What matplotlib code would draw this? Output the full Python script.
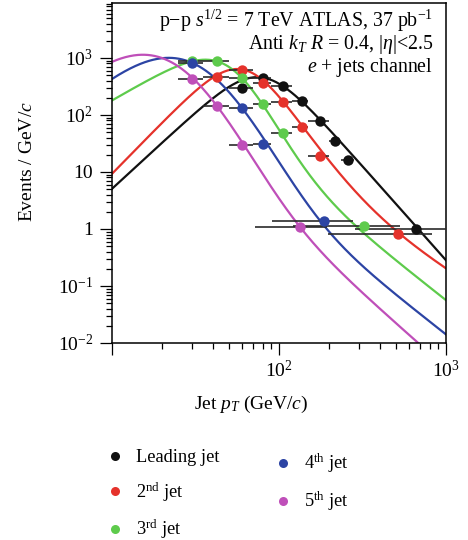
import numpy as np
import matplotlib
matplotlib.use("Agg")
import matplotlib.pyplot as plt
from matplotlib.lines import Line2D
from matplotlib.ticker import LogLocator, FuncFormatter, NullFormatter

plt.rcParams['font.family'] = ['Liberation Serif', 'DejaVu Serif']
plt.rcParams['mathtext.fontset'] = 'custom'
plt.rcParams['mathtext.rm'] = 'Liberation Serif'
plt.rcParams['mathtext.it'] = 'Liberation Serif:italic'
plt.rcParams['mathtext.bf'] = 'Liberation Serif:bold'

# ---------------- data ----------------
jet_labels = ["Leading jet", r"2$^{\rm nd}$ jet", r"3$^{\rm rd}$ jet",
              r"4$^{\rm th}$ jet", r"5$^{\rm th}$ jet"]
jet_colors = ["#111111", "#e5322b", "#5ecb4c", "#2c44a4", "#bf4fb9"]

# leading jet
lead_pt = [60, 80, 106, 137, 176, 216, 259, 660]
lead_y = [298, 445, 323, 176, 78.5, 35, 16.2, 1.0]
lead_lo = [50, 70, 90, 120, 150, 200, 235, 285]
lead_hi = [70, 90, 120, 150, 200, 235, 280, 1000]

# 2nd jet
second_pt = [42.5, 60, 80, 106, 137, 176, 516]
second_y = [464, 616, 364, 169, 61.5, 19.1, 0.82]
second_lo = [35, 50, 70, 90, 120, 150, 196]
second_hi = [50, 70, 90, 120, 150, 200, 830]

# 3rd jet
third_pt = [30, 42.5, 60, 80, 106, 323]
third_y = [886, 886, 445, 156, 48, 1.13]
third_lo = [25, 35, 50, 70, 90, 121]
third_hi = [35, 50, 70, 90, 120, 530]

# 4th jet
fourth_pt = [30, 60, 80, 186]
fourth_y = [817, 133, 31, 1.38]
fourth_lo = [25, 50, 70, 91]
fourth_hi = [35, 70, 90, 277]

# 5th jet
fifth_pt = [30, 42.5, 60, 134]
fifth_y = [428, 144, 29.8, 1.08]
fifth_lo = [25, 35, 50, 72]
fifth_hi = [35, 50, 70, 194]

# fit parameters of the spectrum model:
# (slope_low, slope_mid, break1, sharp1, slope_high, break2, sharp2, pt_ref, value_ref)
lead_fit = (2.7, -3.3, 77.8, 4.0, -3.3, 1000.0, 2.0, 74.0, 460.0)
second_fit = (3.0, -4.7, 61.8, 4.0, -1.8, 280.0, 2.0, 56.0, 640.0)
third_fit = (1.7, -6.5, 52.3, 3.5, -2.3, 138.9, 3.0, 60.0, 445.0)
fourth_fit = (2.6, -6.0, 33.1, 2.0, -2.3, 166.0, 3.0, 60.0, 133.0)
fifth_fit = (2.6, -6.0, 23.2, 2.0, -2.6, 116.5, 3.0, 42.5, 144.0)

series = [
    (lead_pt, lead_y, lead_lo, lead_hi, lead_fit),
    (second_pt, second_y, second_lo, second_hi, second_fit),
    (third_pt, third_y, third_lo, third_hi, third_fit),
    (fourth_pt, fourth_y, fourth_lo, fourth_hi, fourth_fit),
    (fifth_pt, fifth_y, fifth_lo, fifth_hi, fifth_fit),
]


def shape(pt, a1, am, x1, k1, ah, x2, k2):
    """Doubly broken power law."""
    return (pt ** a1
            * (1.0 + (pt / x1) ** k1) ** ((am - a1) / k1)
            * (1.0 + (pt / x2) ** k2) ** ((ah - am) / k2))


def spectrum(pt, params):
    a1, am, x1, k1, ah, x2, k2, xr, yr = params
    return yr * shape(pt, a1, am, x1, k1, ah, x2, k2) / shape(xr, a1, am, x1, k1, ah, x2, k2)


# ---------------- figure ----------------
fig = plt.figure(figsize=(4.68, 5.40), dpi=100)
ax = fig.add_axes([112 / 468, 1 - 343 / 540, 334 / 468, 340 / 540])
ax.set_xscale('log')
ax.set_yscale('log')
ax.set_xlim(10, 1000)
ax.set_ylim(1e-2, 9.2e3)

pt_grid = np.logspace(1, 3, 400)
for (pt, yv, lo, hi, fit), col in zip(series, jet_colors):
    ax.plot(pt_grid, spectrum(pt_grid, fit), color=col, lw=1.6, zorder=2)

for (pt, yv, lo, hi, fit), col in zip(series, jet_colors):
    pt = np.asarray(pt, float)
    xerr = [pt - np.asarray(lo, float), np.asarray(hi, float) - pt]
    ax.errorbar(pt, yv, xerr=xerr, fmt='none', ecolor='#2a2a2a',
                elinewidth=1.2, capsize=0, zorder=3)
    ax.plot(pt, yv, 'o', color=col, ms=7.5, mec='none', zorder=4)

# axes styling
for side in ['left', 'bottom', 'right', 'top']:
    ax.spines[side].set_linewidth(1.1)
ax.tick_params(which='both', direction='out', top=False, right=False, width=0.9)
ax.tick_params(which='major', length=8.5, labelsize=14, pad=4)
ax.tick_params(which='minor', length=4.5)

ax.xaxis.set_major_locator(LogLocator(base=10, numticks=10))
ax.xaxis.set_minor_locator(LogLocator(base=10, subs=np.arange(2, 10), numticks=20))
ax.xaxis.set_minor_formatter(NullFormatter())


def xfmt(v, pos):
    e = int(round(np.log10(v)))
    if e < 2:
        return ''
    return r'$10^{%d}$' % e


def yfmt(v, pos):
    e = int(round(np.log10(v)))
    if e == 0:
        return '1'
    if e == 1:
        return '10'
    return r'$10^{%d}$' % e


ax.xaxis.set_major_formatter(FuncFormatter(xfmt))
ax.yaxis.set_major_locator(LogLocator(base=10, numticks=12))
ax.yaxis.set_minor_locator(LogLocator(base=10, subs=np.arange(2, 10), numticks=30))
ax.yaxis.set_major_formatter(FuncFormatter(yfmt))
ax.yaxis.set_minor_formatter(NullFormatter())
ax.tick_params(axis='y', pad=5)

# axis titles
fig.text(251 / 468, 1 - 404 / 540, r'Jet $p_T$ (GeV/$c$)', ha='center', va='center', fontsize=14)
fig.text(28 / 468, 1 - 162 / 540, r'Events / GeV/$c$', ha='center', va='center',
         rotation=90, fontsize=14)

# annotations
ax.text(0.961, 0.948, r'p$-$p $s^{1/2}$ = 7 TeV ATLAS, 37 pb$^{-1}$',
        transform=ax.transAxes, ha='right', va='center', fontsize=14.3)
ax.text(0.961, 0.877, r'Anti $k_T$ $R$ = 0.4, |$\eta$|<2.5',
        transform=ax.transAxes, ha='right', va='center', fontsize=14.3)
ax.text(0.961, 0.809, r'$e$ + jets channel',
        transform=ax.transAxes, ha='right', va='center', fontsize=14.3)

# legend: two columns, the second sitting slightly lower
handles = [Line2D([], [], ls='none', marker='o', color=c, ms=6.5, mec='none')
           for c in jet_colors]
leg_kw = dict(loc='upper left', frameon=False, fontsize=13.2, handlelength=0.8,
              handletextpad=0.72, labelspacing=0.78, borderpad=0, borderaxespad=0)
fig.legend(handles[:3], jet_labels[:3],
           bbox_to_anchor=(108 / 468, 1 - 449 / 540), **leg_kw)
fig.legend(handles[3:], jet_labels[3:],
           bbox_to_anchor=(276 / 468, 1 - 452 / 540), **leg_kw)

fig.savefig('out.png', dpi=100)
